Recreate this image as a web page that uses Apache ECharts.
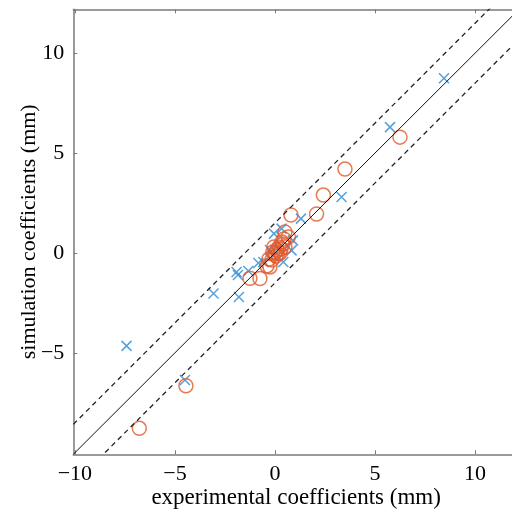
<!DOCTYPE html>
<html><head><meta charset="utf-8">
<script src="https://cdn.jsdelivr.net/npm/echarts@6/dist/echarts.min.js"></script>
<style>html,body{margin:0;padding:0;background:#fff}#c{width:512px;height:516px}</style>
</head><body><div id="c"></div>
<script>
const axisMin = -10.08, axisMax = 12.2;
const xTickValues = [-10, -5, 0, 5, 10];
const yTickValues = [-5, 0, 5, 10];
const bandOffset = 1.5;
const simX = [8.45, 5.75, 3.33, 1.3, -7.42, -4.5, -3.07, -1.85, -1.8, -1.33, -0.83, -0.05, 0.33, 0.9, 0.83, 0.42, -0.25, -0.08, -0.58, -1.92, 0.2];
const simY = [8.75, 6.3, 2.8, 1.72, -4.65, -6.36, -2.03, -1.1, -2.2, -0.9, -0.5, 0.97, 1.22, 0.63, 0.13, -0.45, 0.15, -0.12, -0.45, -0.95, 0.3];
const circX = [6.25, 3.5, 2.42, 2.08, 0.8, 0.5, 0.67, -4.45, -6.78, -1.25, -0.75, -0.4, -0.25, -0.15, 0, 0.1, 0.2, 0.3, 0.4, -0.1, 0.05, -0.3, 0.15, 0.35, 0.25, -0.05, 0.5, 0.45];
const circY = [5.8, 4.2, 2.9, 1.95, 1.9, 1.05, 0.8, -6.65, -8.78, -1.27, -1.28, -0.65, -0.7, -0.35, 0, 0.15, 0.3, 0.2, 0.45, 0.05, -0.15, -0.3, -0.05, 0.55, 0.0, 0.3, 0.3, 0.7];

const fmt = v => (v < 0 ? '\u2212' + Math.abs(v) : String(v));
const serif = 'Liberation Serif';
const axisColor = '#7a7a7a';
function mkAxis(pos, show, ticks) {
  return {
    type: 'value', position: pos, min: axisMin, max: axisMax,
    axisLine: { show: true, onZero: false, lineStyle: { color: axisColor, width: 1.5 } },
    axisTick: { show: true, inside: true, length: 4, customValues: ticks, lineStyle: { color: axisColor, width: 1 } },
    axisLabel: { show: show, customValues: ticks, formatter: fmt, color: '#000', fontFamily: serif, fontSize: 22, margin: 9 },
    splitLine: { show: false }
  };
}
const xb = mkAxis('bottom', true, xTickValues);
xb.name = 'experimental coefficients (mm)';
xb.nameLocation = 'middle'; xb.nameGap = 32; xb.nameMoveOverlap = false;
xb.nameTextStyle = { color: '#000', fontFamily: serif, fontSize: 23 };
const yl = mkAxis('left', true, yTickValues);
yl.name = 'simulation coefficients (mm)';
yl.nameLocation = 'middle'; yl.nameGap = 33; yl.nameMoveOverlap = false;
yl.nameTextStyle = { color: '#000', fontFamily: serif, fontSize: 22 };
const xt = mkAxis('top', false, xTickValues);
const yr = mkAxis('right', false, yTickValues);

const zip = (a, b) => a.map((v, i) => [v, b[i]]);
const lineData = off => [[axisMin, axisMin + off], [axisMax, axisMax + off]];

const chart = echarts.init(document.getElementById('c'), null, { renderer: 'canvas' });
chart.setOption({
  animation: false,
  grid: { left: 73.3, top: 9.3, width: 445.7, height: 445, containLabel: false, outerBoundsMode: 'none' },
  xAxis: [xb, xt],
  yAxis: [yl, yr],
  series: [
    { type: 'scatter', data: zip(simX, simY), symbol: 'path://M0,0L10,10M10,0L0,10', symbolSize: 10,
      itemStyle: { color: 'none', borderColor: '#2a8ad4', borderWidth: 1.5 } },
    { type: 'scatter', data: zip(circX, circY), symbol: 'circle', symbolSize: 14,
      itemStyle: { color: 'none', borderColor: '#e0592a', borderWidth: 1.5 } },
    { type: 'line', data: lineData(0), symbol: 'none', clip: true, lineStyle: { color: '#111', width: 1 } },
    { type: 'line', data: lineData(bandOffset), symbol: 'none', clip: true, lineStyle: { color: '#222', width: 1.3, type: [5, 4] } },
    { type: 'line', data: lineData(-bandOffset), symbol: 'none', clip: true, lineStyle: { color: '#222', width: 1.3, type: [5, 4] } }
  ]
});
</script></body></html>
